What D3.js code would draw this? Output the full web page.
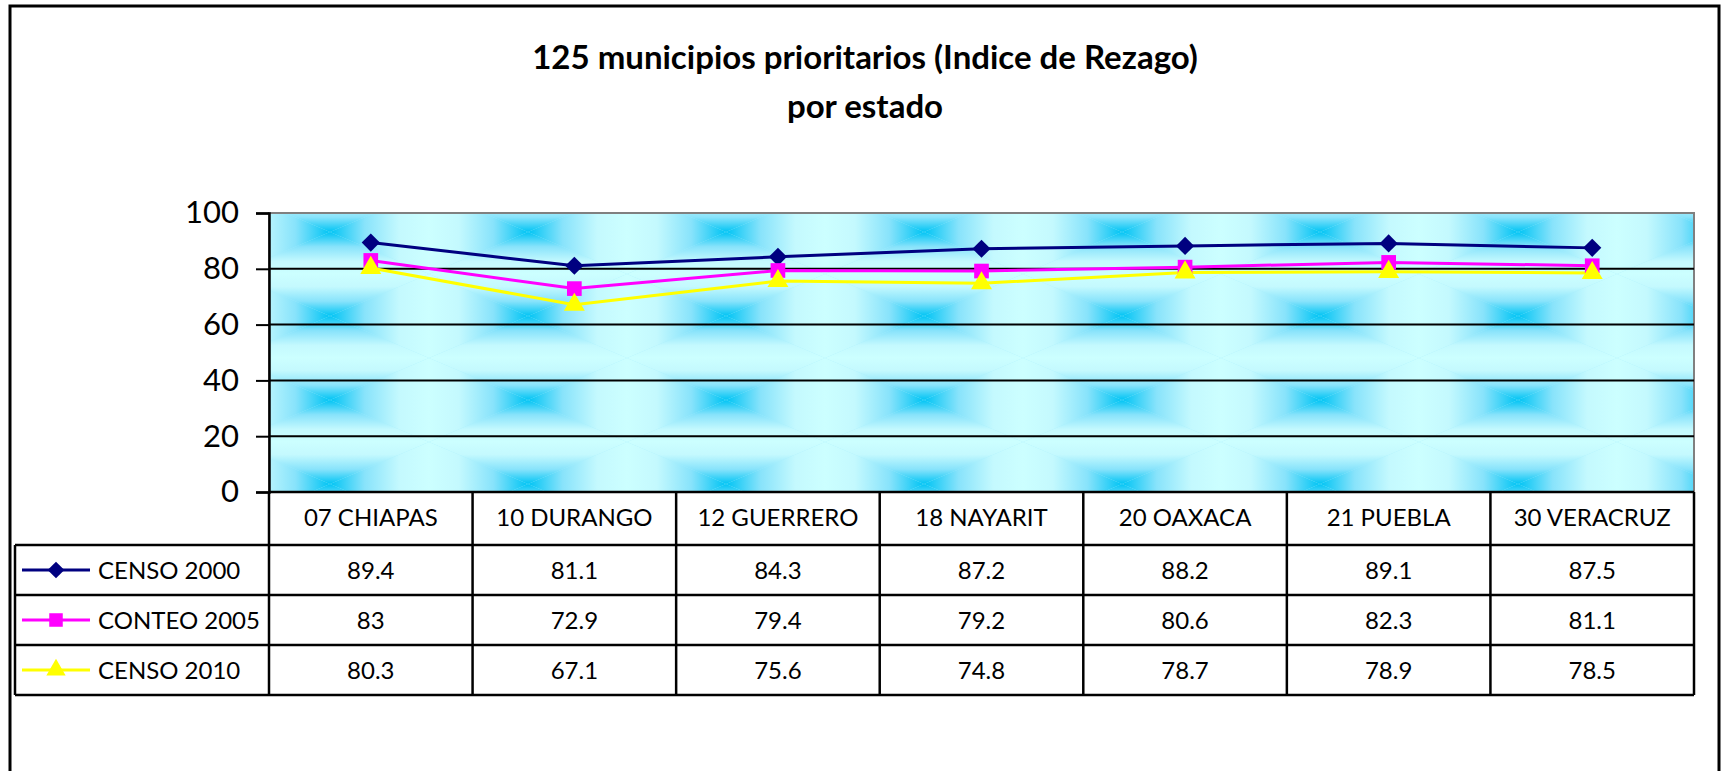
<!DOCTYPE html>
<html>
<head>
<meta charset="utf-8">
<script src="https://cdn.jsdelivr.net/npm/d3@7"></script>
<style>
  body { margin: 0; background: #fff; }
  text { font-family: Lato, "Open Sans", sans-serif; fill: #000; }
</style>
</head>
<body>
<div id="chart"></div>
<script>
// Chart data
var categories = ["07 CHIAPAS", "10 DURANGO", "12 GUERRERO", "18 NAYARIT", "20 OAXACA", "21 PUEBLA", "30 VERACRUZ"];
var seriesNames = ["CENSO 2000", "CONTEO 2005", "CENSO 2010"];
var censo2000 = [89.4, 81.1, 84.3, 87.2, 88.2, 89.1, 87.5];
var conteo2005 = [83, 72.9, 79.4, 79.2, 80.6, 82.3, 81.1];
var censo2010 = [80.3, 67.1, 75.6, 74.8, 78.7, 78.9, 78.5];
var yTicks = [0, 20, 40, 60, 80, 100];
var titleLines = ["125 municipios prioritarios (Indice de Rezago)", "por estado"];

// diamond = square turned 45 degrees
var series = [
    { name: seriesNames[0], values: censo2000, color: "#000080", symbol: d3.symbolSquare, size: 165, rotate: 45 },
    { name: seriesNames[1], values: conteo2005, color: "#ff00ff", symbol: d3.symbolSquare, size: 215, rotate: 0 },
    { name: seriesNames[2], values: censo2010, color: "#ffff00", symbol: d3.symbolTriangle, size: 190, rotate: 0 }
];

// Establish svg size and plot area
var svgWidth = 1723;
var svgHeight = 771;
var plot = { left: 269, right: 1694, top: 213, bottom: 492 };

var svg = d3.select("#chart")
    .append("svg")
    .attr("width", svgWidth)
    .attr("height", svgHeight);

// Outer chart border (runs past the bottom edge)
svg.append("rect")
    .attr("x", 10).attr("y", 6)
    .attr("width", 1709).attr("height", 820)
    .attr("fill", "#fff")
    .attr("stroke", "#000")
    .attr("stroke-width", 3);

// Title
titleLines.forEach(function(t, i) {
    svg.append("text")
        .attr("x", 865).attr("y", 69 + i * 49)
        .attr("text-anchor", "middle")
        .attr("font-size", "33px")
        .attr("font-weight", "bold")
        .text(t);
});

// Scales
var xScale = d3.scaleBand()
    .domain(categories)
    .range([plot.left, plot.right]);

var yScale = d3.scaleLinear()
    .domain([0, 100])
    .range([plot.bottom, plot.top]);

var rowScale = d3.scaleBand()
    .domain(seriesNames)
    .range([545, 695]);

// Background texture: rectangular gradient from the centre, tiled
var defs = svg.append("defs");
function grad(id, x1, y1, x2, y2) {
    var g = defs.append("linearGradient").attr("id", id)
        .attr("x1", x1).attr("y1", y1).attr("x2", x2).attr("y2", y2);
    g.append("stop").attr("offset", 0).attr("stop-color", "#ccffff");
    g.append("stop").attr("offset", 0.3).attr("stop-color", "#c4f9fe");
    g.append("stop").attr("offset", 0.65).attr("stop-color", "#88e3fb");
    g.append("stop").attr("offset", 1).attr("stop-color", "#00c4f4");
}
grad("gTop", 0, 0, 0, 1);
grad("gBottom", 0, 1, 0, 0);
grad("gLeft", 0, 0, 1, 0);
grad("gRight", 1, 0, 0, 0);

var tw = 198, th = 84;
var pattern = defs.append("pattern")
    .attr("id", "texture")
    .attr("patternUnits", "userSpaceOnUse")
    .attr("x", 231).attr("y", 190)
    .attr("width", tw).attr("height", th);
pattern.append("rect").attr("width", tw).attr("height", th).attr("fill", "#a8eefc");
pattern.append("polygon").attr("points", `0,0 ${tw},0 ${tw / 2},${th / 2}`).attr("fill", "url(#gTop)");
pattern.append("polygon").attr("points", `0,${th} ${tw},${th} ${tw / 2},${th / 2}`).attr("fill", "url(#gBottom)");
pattern.append("polygon").attr("points", `0,0 0,${th} ${tw / 2},${th / 2}`).attr("fill", "url(#gLeft)");
pattern.append("polygon").attr("points", `${tw},0 ${tw},${th} ${tw / 2},${th / 2}`).attr("fill", "url(#gRight)");

// Plot area
svg.append("rect")
    .attr("x", plot.left).attr("y", plot.top)
    .attr("width", plot.right - plot.left)
    .attr("height", plot.bottom - plot.top)
    .attr("fill", "url(#texture)")
    .attr("stroke", "#808080")
    .attr("stroke-width", 2);

// Gridlines
svg.append("g")
    .selectAll("line")
    .data(yTicks.filter(d => d > 0 && d < 100))
    .enter()
    .append("line")
    .attr("x1", plot.left).attr("x2", plot.right)
    .attr("y1", d => yScale(d)).attr("y2", d => yScale(d))
    .attr("stroke", "#000")
    .attr("stroke-width", 2);

// Y axis
var leftAxis = d3.axisLeft(yScale)
    .tickValues(yTicks)
    .tickSize(13)
    .tickPadding(17);

var yAxisG = svg.append("g")
    .attr("transform", `translate(${plot.left}, 0)`)
    .call(leftAxis);
yAxisG.select(".domain").attr("stroke", "#000").attr("stroke-width", 2.5);
yAxisG.selectAll(".tick line").attr("stroke", "#000").attr("stroke-width", 2);
yAxisG.selectAll(".tick text")
    .attr("font-family", "Lato, sans-serif")
    .attr("font-size", "31px")
    .attr("fill", "#000");

// Lines and markers
var line = d3.line()
    .x((d, i) => xScale(categories[i]) + xScale.bandwidth() / 2)
    .y(d => yScale(d));

series.forEach(function(s) {
    svg.append("path")
        .attr("d", line(s.values))
        .attr("fill", "none")
        .attr("stroke", s.color)
        .attr("stroke-width", 3);
});
series.forEach(function(s) {
    svg.append("g")
        .selectAll("path")
        .data(s.values)
        .enter()
        .append("path")
        .attr("d", d3.symbol().type(s.symbol).size(s.size))
        .attr("transform", (d, i) => `translate(${xScale(categories[i]) + xScale.bandwidth() / 2}, ${yScale(d)}) rotate(${s.rotate})`)
        .attr("fill", s.color);
});

// Data table
var table = svg.append("g");
var tableLeft = 15;

// header row
table.selectAll(".hdr")
    .data(categories)
    .enter()
    .append("text")
    .attr("x", d => xScale(d) + xScale.bandwidth() / 2)
    .attr("y", 526)
    .attr("text-anchor", "middle")
    .attr("font-size", "24px")
    .text(d => d);

// value rows
series.forEach(function(s) {
    var rowTop = rowScale(s.name);
    var mid = rowTop + rowScale.bandwidth() / 2;
    table.append("g")
        .selectAll("text")
        .data(s.values)
        .enter()
        .append("text")
        .attr("x", (d, i) => xScale(categories[i]) + xScale.bandwidth() / 2)
        .attr("y", mid + 9)
        .attr("text-anchor", "middle")
        .attr("font-size", "24px")
        .text(d => d);

    // legend key
    table.append("line")
        .attr("x1", 22).attr("x2", 90)
        .attr("y1", mid).attr("y2", mid)
        .attr("stroke", s.color)
        .attr("stroke-width", 3);
    table.append("path")
        .attr("d", d3.symbol().type(s.symbol).size(s.size * 0.85))
        .attr("transform", `translate(56, ${mid}) rotate(${s.rotate})`)
        .attr("fill", s.color);
    table.append("text")
        .attr("x", 98)
        .attr("y", mid + 9)
        .attr("font-size", "24px")
        .text(s.name);
});

// table grid lines
var hLines = [
    [plot.left, plot.right, yScale(0)],
    [tableLeft, plot.right, rowScale(seriesNames[0])]
];
seriesNames.forEach(function(n) {
    hLines.push([tableLeft, plot.right, rowScale(n) + rowScale.bandwidth()]);
});
table.selectAll(".hl")
    .data(hLines)
    .enter()
    .append("line")
    .attr("x1", d => d[0]).attr("x2", d => d[1])
    .attr("y1", d => d[2]).attr("y2", d => d[2])
    .attr("stroke", "#000")
    .attr("stroke-width", 2.5);

var tableBottom = rowScale.range()[1];
var vLines = categories.map(d => xScale(d)).concat([plot.right]);
table.selectAll(".vl")
    .data(vLines)
    .enter()
    .append("line")
    .attr("x1", d => d).attr("x2", d => d)
    .attr("y1", yScale(0)).attr("y2", tableBottom)
    .attr("stroke", "#000")
    .attr("stroke-width", 2.5);
table.append("line")
    .attr("x1", tableLeft).attr("x2", tableLeft)
    .attr("y1", rowScale(seriesNames[0])).attr("y2", tableBottom)
    .attr("stroke", "#000")
    .attr("stroke-width", 2.5);
</script>
</body>
</html>
